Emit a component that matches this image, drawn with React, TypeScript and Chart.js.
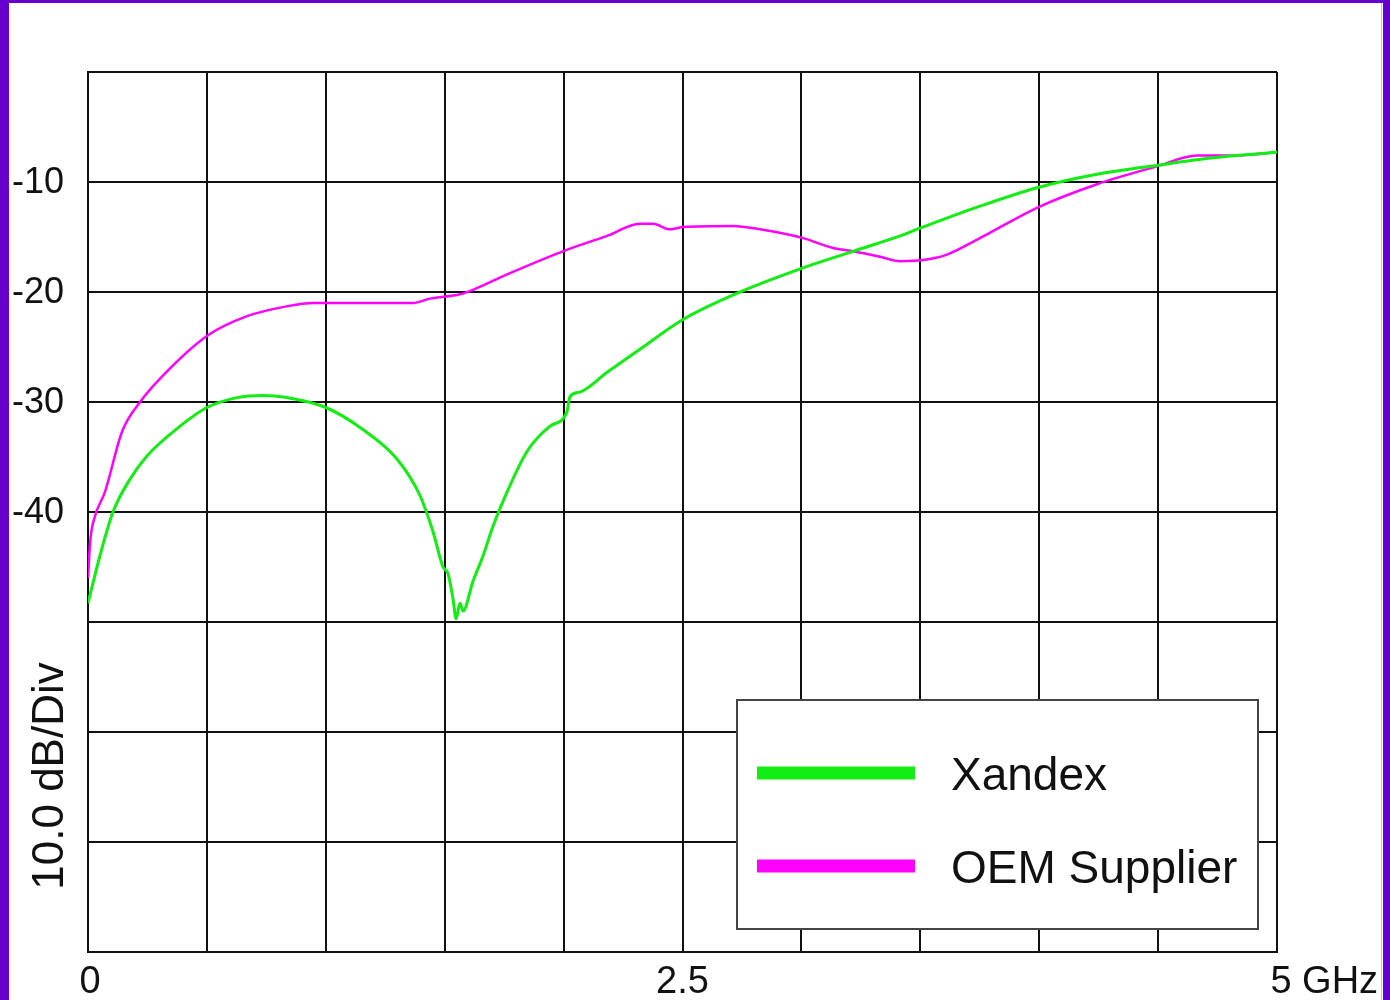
import React, { useEffect, useRef } from "react";
import { Chart, registerables } from "chart.js";

Chart.register(...registerables);

// ---- Data (GHz, dB) ----
const xandexFreq = [
  0, 0.05, 0.105, 0.177, 0.248, 0.387, 0.5, 0.627, 0.736, 0.837, 1.0, 1.156, 1.3, 1.396, 1.451,
  1.493, 1.514, 1.535, 1.548, 1.564, 1.577, 1.619, 1.661, 1.703, 1.762, 1.846, 1.943, 2.014,
  2.027, 2.069, 2.183, 2.321, 2.502, 2.742, 3.007, 3.217, 3.415, 3.499, 3.751, 3.995, 4.243,
  4.491, 4.731, 5.0,
];
const xandexDb = [
  -48.3, -44.0, -40.0, -37.0, -34.9, -32.2, -30.5, -29.6, -29.4, -29.6, -30.5, -32.5, -35.2, -38.5,
  -41.8, -45.0, -45.6, -47.9, -49.7, -48.3, -49.0, -46.3, -44.0, -41.3, -38.2, -34.5, -32.2, -30.9,
  -29.5, -29.1, -27.3, -25.2, -22.5, -20.0, -17.8, -16.3, -14.9, -14.2, -12.2, -10.5, -9.3, -8.5,
  -7.8, -7.3,
];
const oemFreq = [
  0, 0.01, 0.029, 0.071, 0.143, 0.219, 0.315, 0.5, 0.669, 0.837, 0.946, 1.3, 1.367, 1.438, 1.564,
  1.619, 1.762, 1.997, 2.183, 2.321, 2.376, 2.447, 2.502, 2.712, 2.826, 3.007, 3.133, 3.217, 3.331,
  3.415, 3.511, 3.612, 3.751, 3.995, 4.243, 4.491, 4.664, 4.802, 5.0,
];
const oemDb = [
  -46.0, -42.5, -40.4, -38.2, -32.7, -30.0, -27.6, -24.0, -22.2, -21.3, -21.0, -21.0, -21.0, -20.6,
  -20.2, -19.8, -18.4, -16.3, -14.9, -13.8, -13.8, -14.3, -14.1, -14.0, -14.3, -15.1, -16.0, -16.3,
  -16.8, -17.2, -17.1, -16.6, -15.1, -12.3, -10.2, -8.6, -7.6, -7.6, -7.3,
];

const seriesNames = ["Xandex", "OEM Supplier"];
const seriesColors = ["#12ee12", "#ff00ff"];
const yTickValues = [-10, -20, -30, -40];
const xTickValues = [0, 2.5, 5];
const xTickLabels = ["0", "2.5", "5 GHz"];
const yAxisTitle = "10.0 dB/Div";

const FONT = '"Liberation Sans", Arial, Helvetica, sans-serif';
const W = 1390;
const H = 1000;

const decorPlugin = {
  id: "decor",
  beforeDraw(chart: any) {
    const ctx = chart.ctx;
    ctx.save();
    ctx.fillStyle = "#ffffff";
    ctx.fillRect(0, 0, W, H);
    ctx.restore();
  },
  afterDraw(chart: any) {
    const ctx = chart.ctx;
    const xs = chart.scales.x;
    const ys = chart.scales.y;
    ctx.save();

    // frame decoration
    ctx.fillStyle = "#6600cc";
    ctx.fillRect(0, 0, 9, H);
    ctx.fillRect(0, 0, W, 3);
    ctx.fillRect(1383, 0, W - 1383, H);
    ctx.fillStyle = "#c4c4c4";
    ctx.fillRect(1381, 3, 1, H);

    ctx.fillStyle = "#111111";
    // y tick labels
    ctx.font = `36px ${FONT}`;
    ctx.textAlign = "left";
    ctx.textBaseline = "alphabetic";
    yTickValues.forEach((v) => {
      ctx.fillText(String(v), 12, ys.getPixelForValue(v) + 11);
    });

    // x tick labels
    ctx.font = `38px ${FONT}`;
    xTickValues.forEach((v, i) => {
      const px = xs.getPixelForValue(v);
      const label = xTickLabels[i];
      if (i === xTickValues.length - 1) {
        const w5 = ctx.measureText(label.charAt(0)).width;
        ctx.textAlign = "left";
        ctx.fillText(label, px - w5 / 2 + 4, 993);
      } else {
        ctx.textAlign = "center";
        ctx.fillText(label, px + (i === 0 ? 2 : 0), 993);
      }
    });

    // y axis title (rotated)
    ctx.save();
    ctx.font = `44px ${FONT}`;
    ctx.translate(63, 776);
    ctx.rotate(-Math.PI / 2);
    ctx.textAlign = "center";
    ctx.fillText(yAxisTitle, 0, 0);
    ctx.restore();

    // legend box
    const bx = 737, by = 700, bw = 521, bh = 229;
    ctx.fillStyle = "#ffffff";
    ctx.fillRect(bx, by, bw, bh);
    ctx.strokeStyle = "#444444";
    ctx.lineWidth = 2;
    ctx.strokeRect(bx, by, bw, bh);
    const rows = [773, 866];
    const baselines = [790, 883];
    ctx.font = `46px ${FONT}`;
    ctx.textAlign = "left";
    seriesNames.forEach((name, i) => {
      ctx.fillStyle = seriesColors[i];
      ctx.fillRect(757, rows[i] - 6.5, 158, 13);
      ctx.fillStyle = "#111111";
      ctx.fillText(name, 951, baselines[i]);
    });

    ctx.restore();
  },
};

export default function App() {
  const ref = useRef<HTMLCanvasElement | null>(null);

  useEffect(() => {
    if (!ref.current) return;
    const chart = new Chart(ref.current, {
      type: "line",
      data: {
        datasets: [
          {
            label: seriesNames[0],
            data: xandexFreq.map((f, i) => ({ x: f, y: xandexDb[i] })),
            borderColor: seriesColors[0],
            borderWidth: 3,
            pointRadius: 0,
            cubicInterpolationMode: "monotone",
            fill: false,
          },
          {
            label: seriesNames[1],
            data: oemFreq.map((f, i) => ({ x: f, y: oemDb[i] })),
            borderColor: seriesColors[1],
            borderWidth: 2.5,
            pointRadius: 0,
            cubicInterpolationMode: "monotone",
            fill: false,
          },
        ],
      },
      options: {
        animation: false,
        responsive: false,
        devicePixelRatio: 1,
        layout: { padding: { left: 88, top: 72, right: W - 1277, bottom: H - 952 } },
        plugins: { legend: { display: false }, tooltip: { enabled: false } },
        scales: {
          x: {
            type: "linear",
            min: 0,
            max: 5,
            ticks: { display: false, stepSize: 0.5 },
            grid: { color: "#111111", lineWidth: 2, drawTicks: false },
            border: { display: true, color: "#111111", width: 2 },
          },
          y: {
            type: "linear",
            min: -80,
            max: 0,
            ticks: { display: false, stepSize: 10 },
            grid: { color: "#111111", lineWidth: 2, drawTicks: false },
            border: { display: true, color: "#111111", width: 2 },
          },
        },
      },
      plugins: [decorPlugin],
    } as any);
    return () => chart.destroy();
  }, []);

  return (
    <div style={{ position: "absolute", left: 0, top: 0, width: W, height: H, background: "#fff" }}>
      <canvas ref={ref} width={W} height={H} style={{ display: "block", width: W, height: H }} />
    </div>
  );
}
